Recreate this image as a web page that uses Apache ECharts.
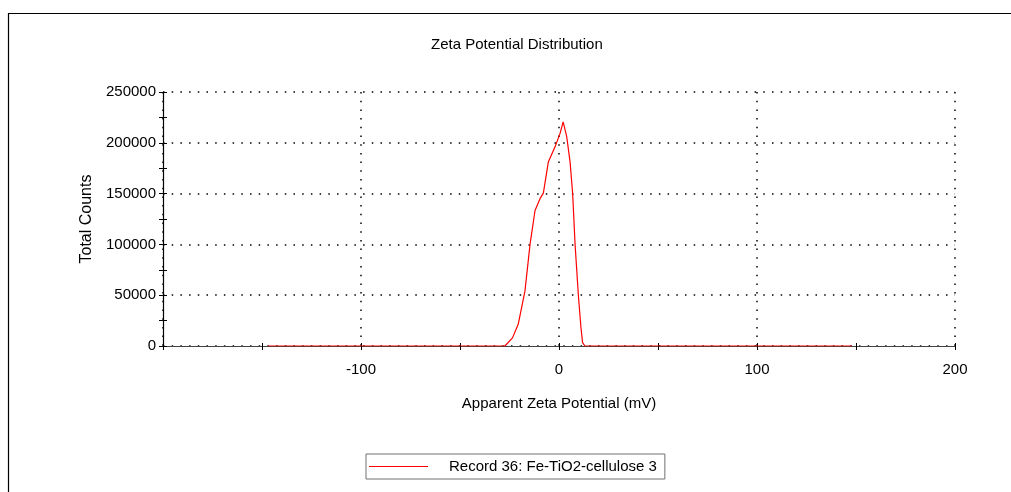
<!DOCTYPE html>
<html>
<head>
<meta charset="utf-8">
<script src="https://cdn.jsdelivr.net/npm/echarts@6/dist/echarts.min.js"></script>
<style>
  html, body { margin: 0; padding: 0; background: #fff; }
  #chart { width: 1011px; height: 492px; }
</style>
</head>
<body>
<div id="chart"></div>
<script>
// Apparent zeta potential (mV) and total counts for the distribution curve
const zeta = [-147, -27.3, -23.5, -20.6, -17.2, -14.6, -12.1, -9.6, -7.9, -5.4, -2.0, 0.5, 2.1, 3.9, 5.6, 6.9, 8.1, 9.8, 11.1, 11.9, 13.1, 148];
const counts = [0, 0, 8000, 21400, 54000, 100500, 133400, 145000, 150500, 181000, 196000, 209000, 220600, 206000, 181000, 150000, 100500, 49400, 18000, 3300, 0, 0];

const seriesName = 'Record 36: Fe-TiO2-cellulose 3';
const xRange = [-200, 200];
const yRange = [0, 250000];

const FONT = '"Liberation Sans", Arial, sans-serif';
const GRID = { left: 163, right: 56, top: 92, bottom: 146 };

const dotted = { color: '#000', width: 1.5, type: [1.5, 7.2] };
const tickStyle = { color: '#000', width: 1 };

const chart = echarts.init(document.getElementById('chart'), null, { renderer: 'canvas' });

chart.setOption({
  animation: false,
  backgroundColor: '#fff',
  textStyle: { fontFamily: FONT },
  title: {
    text: 'Zeta Potential Distribution',
    left: 426,
    top: 32,
    textStyle: { fontFamily: FONT, fontSize: 15, fontWeight: 'normal', color: '#000' }
  },
  legend: {
    left: 366,
    top: 454,
    padding: [5, 8, 5, 3],
    itemWidth: 59,
    itemHeight: 1,
    icon: 'rect',
    borderColor: '#707070',
    borderWidth: 1,
    textStyle: { fontFamily: FONT, fontSize: 15, color: '#000', padding: [0, 0, 0, 16] },
    data: [seriesName]
  },
  // second grid with the same rect carries the inward halves of the crossing ticks
  grid: [GRID, GRID],
  graphic: [{
    type: 'rect',
    shape: { x: 8.5, y: 13.5, width: 1100, height: 600 },
    style: { fill: 'none', stroke: '#000', lineWidth: 1.2 },
    silent: true
  }],
  xAxis: [{
    type: 'value',
    gridIndex: 0,
    min: xRange[0],
    max: xRange[1],
    interval: 100,
    name: 'Apparent Zeta Potential (mV)',
    nameLocation: 'middle',
    nameGap: 50,
    nameTextStyle: { fontFamily: FONT, fontSize: 15, color: '#000' },
    axisLine: { onZero: false, lineStyle: { color: '#444', width: 1.2 } },
    axisTick: { show: true, inside: false, length: 4, lineStyle: tickStyle },
    minorTick: { show: true, splitNumber: 2, length: 4, lineStyle: tickStyle },
    axisLabel: { showMinLabel: false, margin: 16, fontFamily: FONT, fontSize: 15, color: '#000' },
    splitLine: { show: true, lineStyle: dotted }
  }, {
    type: 'value',
    gridIndex: 1,
    min: xRange[0],
    max: xRange[1],
    interval: 100,
    position: 'bottom',
    axisLine: { show: false, onZero: false },
    axisTick: { show: true, inside: true, length: 3, lineStyle: tickStyle },
    minorTick: { show: true, splitNumber: 2, length: 3, lineStyle: tickStyle },
    axisLabel: { show: false },
    splitLine: { show: false }
  }],
  yAxis: [{
    type: 'value',
    gridIndex: 0,
    min: yRange[0],
    max: yRange[1],
    interval: 50000,
    name: 'Total Counts',
    nameLocation: 'middle',
    nameGap: 67,
    nameTextStyle: { fontFamily: FONT, fontSize: 16, color: '#000' },
    axisLine: { show: true, onZero: false, lineStyle: { color: '#000', width: 1.2 } },
    axisTick: { show: true, inside: false, length: 4, lineStyle: tickStyle },
    minorTick: { show: true, splitNumber: 2, length: 4, lineStyle: tickStyle },
    axisLabel: { margin: 7, fontFamily: FONT, fontSize: 15, color: '#000', formatter: v => String(v) },
    splitLine: { show: true, lineStyle: dotted }
  }, {
    type: 'value',
    gridIndex: 1,
    min: yRange[0],
    max: yRange[1],
    interval: 50000,
    position: 'left',
    axisLine: { show: false, onZero: false },
    axisTick: { show: true, inside: true, length: 4, lineStyle: tickStyle },
    minorTick: { show: true, splitNumber: 2, length: 4, lineStyle: tickStyle },
    axisLabel: { show: false },
    splitLine: { show: false }
  }],
  series: [{
    name: seriesName,
    type: 'line',
    xAxisIndex: 0,
    yAxisIndex: 0,
    symbol: 'none',
    lineStyle: { color: '#ff0000', width: 1.2 },
    itemStyle: { color: '#ff0000' },
    data: zeta.map((z, i) => [z, counts[i]]),
    z: 5
  }]
});
</script>
</body>
</html>
